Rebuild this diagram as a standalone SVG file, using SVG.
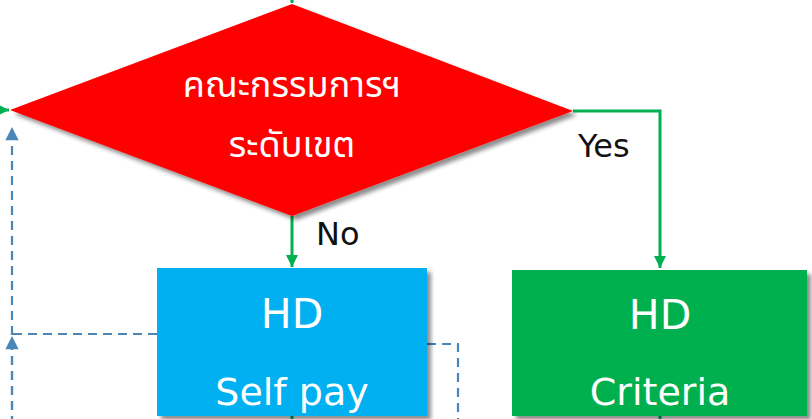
<svg xmlns="http://www.w3.org/2000/svg" width="812" height="419" viewBox="0 0 812 419">
<style>
.g{stroke:#00B050;stroke-width:3;fill:none}
.d{stroke:#4A86B8;stroke-width:2.2;fill:none;stroke-dasharray:9 6}
.w{fill:#fff;font-family:"DejaVu Sans","Noto Sans",sans-serif;text-anchor:middle}
.th{fill:#fff;font-family:"Noto Sans Thai","Tahoma","DejaVu Sans",sans-serif;text-anchor:middle;font-size:36px}
.lb{fill:#111;font-family:"DejaVu Sans","Noto Sans",sans-serif;font-size:32px}
</style>
<defs>
<filter id="sh" x="-10%" y="-10%" width="130%" height="130%">
<feGaussianBlur in="SourceAlpha" stdDeviation="2"/>
<feOffset dx="4" dy="4" result="o"/>
<feComponentTransfer><feFuncA type="linear" slope="0.45"/></feComponentTransfer>
<feMerge><feMergeNode/><feMergeNode in="SourceGraphic"/></feMerge>
</filter>
<marker id="ag" viewBox="0 0 10 10" refX="10" refY="5" markerWidth="4" markerHeight="4" orient="auto" markerUnits="strokeWidth">
<path d="M0,0 L10,5 L0,10 z" fill="#00B050"/>
</marker>
<marker id="ab" viewBox="0 0 10 10" refX="10" refY="5" markerWidth="7" markerHeight="6" orient="auto" markerUnits="strokeWidth">
<path d="M0,0 L10,5 L0,10 z" fill="#4A86B8"/>
</marker>
</defs>
<g id="connectors">
<path class="g" d="M-20,110 L9,110" marker-end="url(#ag)"/>
<path class="g" d="M292,-30 L292,3" marker-end="url(#ag)"/>
<path class="g" d="M573,111 L660,111 L660,268" marker-end="url(#ag)"/>
<path class="g" d="M292,216 L292,267" marker-end="url(#ag)"/>
<path class="g" d="M292,414 L292,430"/>
<path class="g" d="M660,414 L660,430"/>
<path class="d" d="M12,425 L12,127" marker-end="url(#ab)"/>
<path class="d" d="M12,425 L12,336" marker-end="url(#ab)"/>
<path class="d" d="M157,334 L12,334"/>
<path class="d" d="M427,344 L458,344 L458,425"/>
</g>
<g id="decision">
<polygon points="292,4 573,111 292,216 10,110" fill="#FF0000" filter="url(#sh)"/>
<text class="th" x="292" y="97">คณะกรรมการฯ</text>
<text class="th" x="292" y="157">ระดับเขต</text>
</g>
<g id="label-yes"><text class="lb" x="578" y="157">Yes</text></g>
<g id="label-no"><text class="lb" x="316" y="245">No</text></g>
<g id="selfpay">
<rect x="157" y="268" width="270" height="148" fill="#00B0F0" filter="url(#sh)"/>
<text class="w" x="292" y="328" font-size="41">HD</text>
<text class="w" x="292" y="405" font-size="38">Self pay</text>
</g>
<g id="criteria">
<rect x="512" y="270" width="295" height="146" fill="#00B050" filter="url(#sh)"/>
<text class="w" x="660" y="329" font-size="41">HD</text>
<text class="w" x="660" y="405" font-size="38">Criteria</text>
</g>
</svg>
